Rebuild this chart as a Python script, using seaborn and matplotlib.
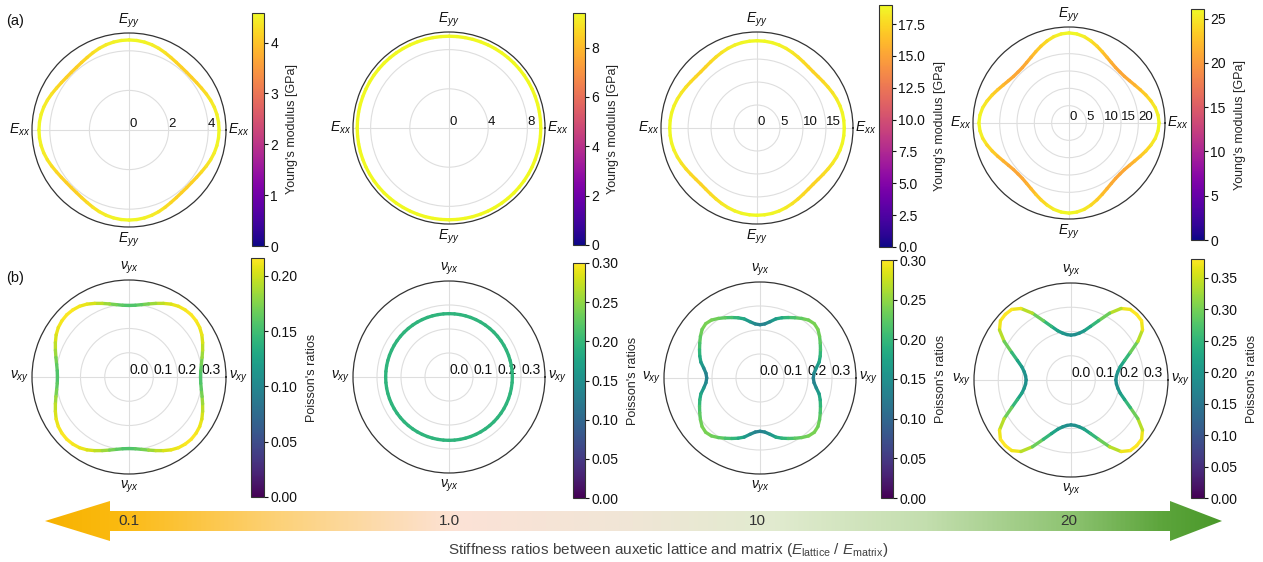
import numpy as np
import matplotlib
matplotlib.use("Agg")
import matplotlib.pyplot as plt
import seaborn as sns
from matplotlib.collections import LineCollection
from matplotlib.colors import Normalize, LinearSegmentedColormap
from matplotlib.cm import ScalarMappable
from matplotlib.patches import Polygon

# ---------------- data ----------------
stiffness_ratio_labels = ["0.1", "1.0", "10", "20"]
angle_deg_quarter = [0, 5, 10, 15, 20, 25, 30, 35, 40, 45, 50, 55, 60, 65, 70, 75, 80, 85, 90]

# (a) Young's modulus [GPa] (radius = colour value)
young_ratio_01 = [4.55, 4.54, 4.51, 4.46, 4.39, 4.31, 4.23, 4.17, 4.13, 4.12,
                  4.13, 4.17, 4.23, 4.31, 4.39, 4.46, 4.51, 4.54, 4.55]
young_ratio_1 = [9.37, 9.37, 9.37, 9.37, 9.37, 9.37, 9.37, 9.37, 9.37, 9.37,
                 9.37, 9.37, 9.37, 9.37, 9.37, 9.37, 9.37, 9.37, 9.37]
young_ratio_10 = [19.0, 18.97, 18.88, 18.7, 18.45, 18.15, 17.85, 17.58, 17.38, 17.3,
                  17.38, 17.58, 17.85, 18.15, 18.45, 18.7, 18.88, 18.97, 19.0]
young_ratio_20 = [26.0, 25.8, 25.3, 24.5, 23.6, 22.7, 21.9, 21.3, 20.9, 20.8,
                  20.9, 21.3, 21.9, 22.7, 23.6, 24.5, 25.3, 25.8, 26.0]

# (b) Poisson's ratios: plotted radius and colour value
poisson_r_01 = [0.295, 0.297, 0.303, 0.312, 0.323, 0.335, 0.347, 0.356, 0.361, 0.363,
                0.361, 0.356, 0.347, 0.335, 0.323, 0.312, 0.303, 0.297, 0.295]
poisson_c_01 = [0.155, 0.158, 0.166, 0.178, 0.190, 0.199, 0.206, 0.211, 0.214, 0.215,
                0.214, 0.211, 0.206, 0.199, 0.190, 0.178, 0.166, 0.158, 0.155]
poisson_r_1 = [0.264, 0.264, 0.264, 0.264, 0.264, 0.264, 0.264, 0.264, 0.264, 0.264,
               0.264, 0.264, 0.264, 0.264, 0.264, 0.264, 0.264, 0.264, 0.264]
poisson_c_1 = [0.195, 0.195, 0.195, 0.195, 0.195, 0.195, 0.195, 0.195, 0.195, 0.195,
               0.195, 0.195, 0.195, 0.195, 0.195, 0.195, 0.195, 0.195, 0.195]
poisson_r_10 = [0.222, 0.226, 0.238, 0.255, 0.267, 0.278, 0.290, 0.303, 0.315, 0.320,
                0.315, 0.303, 0.290, 0.278, 0.267, 0.255, 0.238, 0.226, 0.222]
poisson_c_10 = [0.130, 0.135, 0.150, 0.172, 0.190, 0.206, 0.220, 0.230, 0.237, 0.240,
                0.237, 0.230, 0.220, 0.206, 0.190, 0.172, 0.150, 0.135, 0.130]
poisson_r_20 = [0.185, 0.188, 0.196, 0.210, 0.235, 0.270, 0.318, 0.360, 0.380, 0.383,
                0.380, 0.360, 0.318, 0.270, 0.235, 0.210, 0.196, 0.188, 0.185]
poisson_c_20 = poisson_r_20

young_cbar_max = [4.58, 9.40, 19.0, 26.1]
poisson_cbar_max = [0.216, 0.30, 0.30, 0.38]
young_cbar_ticks = [[0, 1, 2, 3, 4], [0, 2, 4, 6, 8],
                    [0, 2.5, 5, 7.5, 10, 12.5, 15, 17.5], [0, 5, 10, 15, 20, 25]]
young_cbar_fmt = ["{:.0f}", "{:.0f}", "{:.1f}", "{:.0f}"]
poisson_cbar_ticks = [[0, 0.05, 0.10, 0.15, 0.20], [0, 0.05, 0.10, 0.15, 0.20, 0.25, 0.30],
                      [0, 0.05, 0.10, 0.15, 0.20, 0.25, 0.30],
                      [0, 0.05, 0.10, 0.15, 0.20, 0.25, 0.30, 0.35]]
young_rticks = [[0, 2, 4], [0, 4, 8], [0, 5, 10, 15], [0, 5, 10, 15, 20]]
young_rmax = [4.9, 9.8, 20.9, 27.7]
poisson_rticks = [0.0, 0.1, 0.2, 0.3]
poisson_rmax = 0.4

young_theta_labels = [r"$E_{xx}$", r"$E_{yy}$", r"$E_{xx}$", r"$E_{yy}$"]
poisson_theta_labels = [r"$\nu_{xy}$", r"$\nu_{yx}$", r"$\nu_{xy}$", r"$\nu_{yx}$"]

# ---------------- style ----------------
sns.set_theme(style="white")
plt.rcParams["font.family"] = ["Liberation Sans", "DejaVu Sans"]
plt.rcParams["mathtext.fontset"] = "custom"
plt.rcParams["mathtext.rm"] = "Liberation Sans"
plt.rcParams["mathtext.it"] = "Liberation Sans:italic"
plt.rcParams["mathtext.bf"] = "Liberation Sans:bold"

W, H = 1263, 562
fig = plt.figure(figsize=(W / 100, H / 100), dpi=100)
fig.patch.set_facecolor("white")

plasma = sns.color_palette("plasma", as_cmap=True)
viridis = sns.color_palette("viridis", as_cmap=True)

# layout (pixels): polar centre x, y, radius ; colorbar x0, x1, y0, y1
polar_a = [(129, 130, 97), (449, 128, 96), (757, 128, 96), (1069, 123, 96)]
polar_b = [(129, 377, 97), (449, 377, 96), (760, 378, 96), (1071, 380, 97)]
cbar_a = [(252, 264, 13, 246), (573, 585, 13, 245), (879, 892, 5, 247), (1191, 1204, 9, 240)]
cbar_b = [(251, 264, 258, 497), (573, 585, 263, 498), (881, 893, 260, 498), (1191, 1204, 259, 498)]


def full_angles(q):
    q = np.asarray(q, float)
    return np.concatenate([q, 180 - q[-2::-1], 180 + q[1:], 360 - q[-2::-1]])


def full_vals(q):
    q = np.asarray(q, float)
    return np.concatenate([q, q[-2::-1], q[1:], q[-2::-1]])


def polar_ax(cx, cy, R):
    return fig.add_axes([(cx - R) / W, 1 - (cy + R) / H, 2 * R / W, 2 * R / H], projection="polar")


def cbar_ax(x0, x1, y0, y1):
    return fig.add_axes([x0 / W, 1 - y1 / H, (x1 - x0) / W, (y1 - y0) / H])


def draw_panel(ax, r_q, c_q, cmap, norm, rmax, rticks, rfmt, theta_labels, rfs):
    theta = np.deg2rad(full_angles(angle_deg_quarter))
    r = full_vals(r_q)
    c = full_vals(c_q)
    pts = np.column_stack([theta, r])
    segs = np.stack([pts[:-1], pts[1:]], axis=1)
    lc = LineCollection(segs, cmap=cmap, norm=norm, linewidths=2.4,
                        capstyle="round", joinstyle="round", zorder=3)
    lc.set_array(0.5 * (c[:-1] + c[1:]))
    ax.add_collection(lc)
    ax.set_ylim(0, rmax)
    ax.set_yticks(rticks)
    ax.set_yticklabels([rfmt.format(v) for v in rticks], fontsize=rfs, color="#111111")
    ax.set_rlabel_position(0)
    ax.set_xticks(np.deg2rad([0, 90, 180, 270]))
    ax.set_xticklabels(theta_labels, fontsize=10, color="#111111")
    ax.tick_params(axis="x", pad=-4)
    ax.grid(True, color="#dedede", linewidth=0.8)
    ax.spines["polar"].set_color("#333333")
    ax.spines["polar"].set_linewidth(0.9)
    ax.set_facecolor("white")


def draw_cbar(cax, cmap, vmax, ticks, fmt, label):
    sm = ScalarMappable(norm=Normalize(0, vmax), cmap=cmap)
    cb = fig.colorbar(sm, cax=cax)
    cb.set_ticks(ticks)
    cb.set_ticklabels([fmt.format(t) for t in ticks])
    cb.ax.tick_params(labelsize=10, length=3, width=0.8, pad=1.5, colors="#111111")
    cb.outline.set_edgecolor("#333333")
    cb.outline.set_linewidth(0.8)
    cb.set_label(label, fontsize=9, labelpad=6)


young_data = [young_ratio_01, young_ratio_1, young_ratio_10, young_ratio_20]
poisson_r = [poisson_r_01, poisson_r_1, poisson_r_10, poisson_r_20]
poisson_c = [poisson_c_01, poisson_c_1, poisson_c_10, poisson_c_20]

for i in range(4):
    ax = polar_ax(*polar_a[i])
    norm = Normalize(0, young_cbar_max[i])
    draw_panel(ax, young_data[i], young_data[i], plasma, norm, young_rmax[i],
               young_rticks[i], "{:.0f}", young_theta_labels, 9.5)
    draw_cbar(cbar_ax(*cbar_a[i]), plasma, young_cbar_max[i], young_cbar_ticks[i],
              young_cbar_fmt[i], "Young's modulus [GPa]")

    axb = polar_ax(*polar_b[i])
    normb = Normalize(0, poisson_cbar_max[i])
    draw_panel(axb, poisson_r[i], poisson_c[i], viridis, normb, poisson_rmax,
               poisson_rticks, "{:.1f}", poisson_theta_labels, 10)
    draw_cbar(cbar_ax(*cbar_b[i]), viridis, poisson_cbar_max[i], poisson_cbar_ticks[i],
              "{:.2f}", "Poisson's ratios")

# ---------------- overlay: panel letters, gradient arrow, caption ----------------
ov = fig.add_axes([0, 0, 1, 1], zorder=-5)
ov.set_xlim(0, W)
ov.set_ylim(H, 0)
ov.axis("off")

ov.text(6, 21, "(a)", fontsize=10.5, va="center", ha="left", color="#111111")
ov.text(6, 278, "(b)", fontsize=10.5, va="center", ha="left", color="#111111")

arrow_cmap = LinearSegmentedColormap.from_list("stiff", [
    (0.00, "#f7b200"), (0.06, "#fbba10"), (0.20, "#fdd27a"), (0.35, "#fce2d6"),
    (0.50, "#f0e6d6"), (0.62, "#e1ebcf"), (0.75, "#c3deae"), (0.87, "#8fc473"),
    (0.95, "#5da53c"), (1.00, "#4a992a")])
arrow_pts = [(45, 521), (110, 501), (110, 511), (1170, 511), (1170, 501), (1222, 521),
             (1170, 541), (1170, 531), (110, 531), (110, 541)]
poly = Polygon(arrow_pts, closed=True, facecolor="none", edgecolor="none")
ov.add_patch(poly)
im = ov.imshow(np.linspace(0, 1, 512)[None, :], extent=[45, 1222, 541, 501],
               cmap=arrow_cmap, aspect="auto", interpolation="bilinear")
im.set_clip_path(poly)

for (cx, _, _), lab in zip(polar_a, stiffness_ratio_labels):
    ov.text(cx, 521, lab, fontsize=11, ha="center", va="center", color="#333333")

ov.text(668, 550, r"Stiffness ratios between auxetic lattice and matrix ($E_\mathrm{lattice}$ / $E_\mathrm{matrix}$)",
        fontsize=11, ha="center", va="center", color="#404040")

fig.savefig("out.png", dpi=100, facecolor="white")
